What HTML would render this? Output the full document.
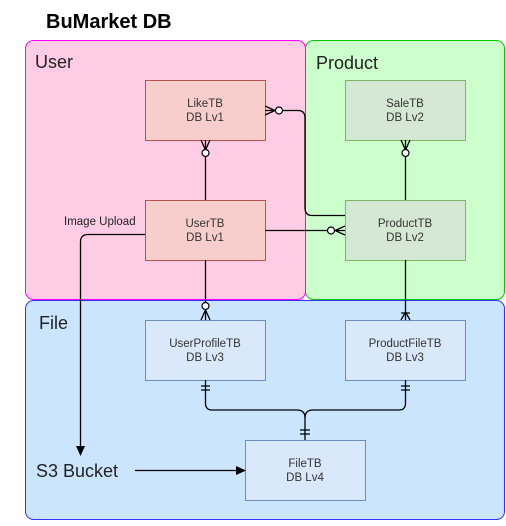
<!DOCTYPE html>
<html><head><style>html,body{margin:0;padding:0;background:#fff}</style></head><body>
<svg width="506" height="521" viewBox="0 0 506 521" xmlns="http://www.w3.org/2000/svg" font-family="Liberation Sans, Arial, sans-serif">
<text x="46" y="28" font-size="20" font-weight="bold" fill="#000">BuMarket DB</text>
<rect x="305.5" y="40.5" width="199" height="259" rx="8" fill="#ccffcc" stroke="#00cc00"/>
<rect x="25.5" y="40.5" width="280" height="259" rx="8" fill="#ffcce6" stroke="#ff00ff"/>
<rect x="25.5" y="300.5" width="479" height="219" rx="8" fill="#cce5ff" stroke="#3333ff"/>
<text x="35" y="68" font-size="18" fill="#222">User</text>
<text x="316" y="69" font-size="18" fill="#222">Product</text>
<text x="39" y="329" font-size="18" fill="#222">File</text>
<g font-size="11.5" fill="#333" text-anchor="middle">
<rect x="145.5" y="80.5" width="120" height="60" fill="#f8cecc" stroke="#b85450"/>
<text x="205" y="107">LikeTB</text><text x="205" y="121">DB Lv1</text>
<rect x="345.5" y="80.5" width="120" height="60" fill="#d5e8d4" stroke="#82b366"/>
<text x="405" y="107">SaleTB</text><text x="405" y="121">DB Lv2</text>
<rect x="145.5" y="200.5" width="120" height="60" fill="#f8cecc" stroke="#b85450"/>
<text x="205" y="227">UserTB</text><text x="205" y="241">DB Lv1</text>
<rect x="345.5" y="200.5" width="120" height="60" fill="#d5e8d4" stroke="#82b366"/>
<text x="405" y="227">ProductTB</text><text x="405" y="241">DB Lv2</text>
<rect x="145.5" y="320.5" width="120" height="60" fill="#dae8fc" stroke="#6c8ebf"/>
<text x="205" y="347">UserProfileTB</text><text x="205" y="361">DB Lv3</text>
<rect x="345.5" y="320.5" width="120" height="60" fill="#dae8fc" stroke="#6c8ebf"/>
<text x="405" y="347">ProductFileTB</text><text x="405" y="361">DB Lv3</text>
<rect x="245.5" y="440.5" width="120" height="60" fill="#dae8fc" stroke="#6c8ebf"/>
<text x="305" y="467">FileTB</text><text x="305" y="481">DB Lv4</text>
</g>
<text x="64" y="225" font-size="11.5" fill="#222">Image Upload</text>
<text x="36" y="477" font-size="18" fill="#222">S3 Bucket</text>
<g stroke="#000" stroke-width="1.3" fill="none">
<!-- LikeTB - UserTB -->
<path d="M205.5 157V200"/>
<path d="M201 140L205.5 150L210 140M205.5 140V150"/>
<!-- SaleTB - ProductTB -->
<path d="M405.5 157V200"/>
<path d="M401 140L405.5 150L410 140M405.5 140V150"/>
<!-- LikeTB - ProductTB -->
<path d="M283 110.5H298Q305 110.5 305 118V208Q305 215.5 312 215.5H345"/>
<path d="M265 106L275 110.5L265 115M265 110.5H275"/>
<!-- UserTB - ProductTB -->
<path d="M265 230.5H328"/>
<path d="M345 226L335 230.5L345 235M345 230.5H335"/>
<!-- UserTB - UserProfileTB -->
<path d="M205.5 260V303"/>
<path d="M201 320L205.5 310L210 320M205.5 320V310"/>
<!-- ProductTB - ProductFileTB -->
<path d="M405.5 260V320"/>
<path d="M401 320L405.5 312L410 320M401 313H410"/>
<!-- File connectors -->
<path d="M205.5 380V403Q205.5 410 212 410H297Q305 410 305 418V440"/>
<path d="M405.5 380V403Q405.5 410 399 410H313Q305 410 305 418"/>
<path d="M201 386H210M201 390H210M401 386H410M401 390H410M300 430H310M300 434H310"/>
<!-- image upload -->
<path d="M145 234.5H88Q80.5 234.5 80.5 242V446"/>
<path d="M135 470.5H236"/>
</g>
<g fill="#fff" stroke="#000" stroke-width="1.2">
<circle cx="205.5" cy="153" r="3.5"/><circle cx="405.5" cy="153" r="3.5"/>
<circle cx="279" cy="110.5" r="3.5"/><circle cx="331" cy="230.5" r="3.5"/>
<circle cx="205.5" cy="306" r="3.5"/>
</g>
<g fill="#000">
<path d="M76 446L80.5 456L85 446Z"/>
<path d="M236 466L246 470.5L236 475Z"/>
</g>
</svg>
</body></html>
